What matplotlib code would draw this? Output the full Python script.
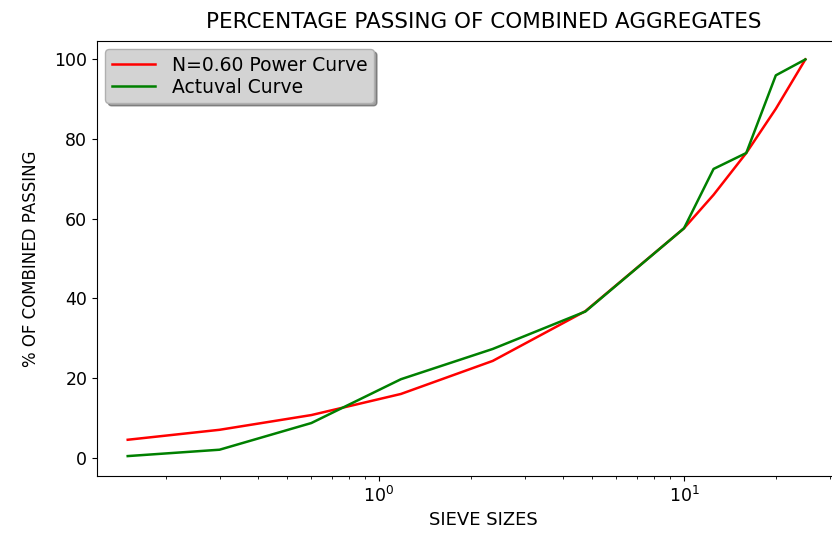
import matplotlib
matplotlib.use("Agg")
import matplotlib.pyplot as plt

sieve_sizes = [0.15, 0.3, 0.6, 1.18, 2.36, 4.75, 10, 12.5, 16, 20, 25]
power_curve = [4.5, 7.0, 10.7, 16.0, 24.3, 36.8, 57.6, 66.0, 76.5, 87.6, 100.0]
actual_curve = [0.4, 2.0, 8.7, 19.7, 27.3, 36.7, 57.6, 72.5, 76.5, 96.0, 100.0]

W, H = 832, 533
fig = plt.figure(figsize=(W/100, H/100), dpi=100)
left_px, right_px, top_px, bot_px = 97, 870, 40.7, 476
ax = fig.add_axes([left_px/W, 1-bot_px/H, (right_px-left_px)/W, (bot_px-top_px)/H])

ax.plot(sieve_sizes, power_curve, color='red', lw=1.8, label='N=0.60 Power Curve')
ax.plot(sieve_sizes, actual_curve, color='green', lw=1.8, label='Actuval Curve')
ax.set_xscale('log')
# 10^0 at x=379 px, 305 px per decade
ax.set_xlim(10**((left_px-379)/305), 10**((right_px-379)/305))
ax.set_ylim(-4.6, 104.7)

ax.set_title('PERCENTAGE PASSING OF COMBINED AGGREGATES', fontsize=15.5, pad=9)
ax.set_xlabel('SIEVE SIZES', fontsize=13)
ax.set_ylabel('% OF COMBINED PASSING', fontsize=12, labelpad=10)
ax.tick_params(labelsize=12.5)
ax.set_yticks([0, 20, 40, 60, 80, 100])

leg = ax.legend(loc='upper left', fontsize=13.5, shadow=True, facecolor='#d3d3d3',
                framealpha=1, edgecolor='#b0b0b0', handlelength=2.3,
                handletextpad=0.9, labelspacing=0.15, borderaxespad=0.45,
                borderpad=0.35)

fig.savefig('out.png', dpi=100)
